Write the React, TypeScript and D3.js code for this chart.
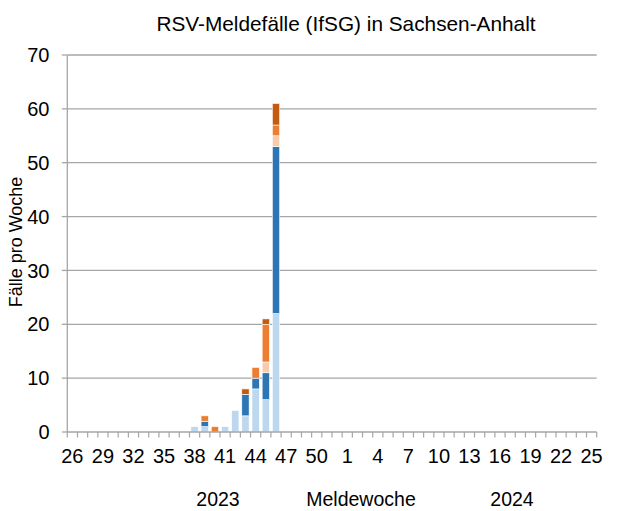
import React, { useEffect, useRef } from 'react';
import * as d3 from 'd3';

const weeks2023 = [26, 27, 28, 29, 30, 31, 32, 33, 34, 35, 36, 37, 38, 39, 40, 41, 42, 43, 44, 45, 46, 47, 48, 49, 50, 51, 52];
const weeks2024 = [1, 2, 3, 4, 5, 6, 7, 8, 9, 10, 11, 12, 13, 14, 15, 16, 17, 18, 19, 20, 21, 22, 23, 24, 25];
const categories = [...weeks2023.map((w) => `2023-${w}`), ...weeks2024.map((w) => `2024-${w}`)];
const weekLabels = [...weeks2023, ...weeks2024];

// Werte pro Woche (nur Wochen mit Meldungen, Rest 0)
const reportedWeeks = ['2023-38', '2023-39', '2023-40', '2023-41', '2023-42', '2023-43', '2023-44', '2023-45', '2023-46'];
const seriesA = [1, 1, 0, 1, 4, 3, 8, 6, 22];
const seriesB = [0, 1, 0, 0, 0, 4, 2, 5, 31];
const seriesC = [0, 0, 0, 0, 0, 0, 0, 2, 2];
const seriesD = [0, 1, 1, 0, 0, 0, 2, 7, 2];
const seriesE = [0, 0, 0, 0, 0, 1, 0, 1, 4];

const seriesKeys = ['a', 'b', 'c', 'd', 'e'];
const seriesColors = ['#BDD7EE', '#2E75B6', '#F8CBAD', '#ED7D31', '#C55A11'];
const yTicks = [0, 10, 20, 30, 40, 50, 60, 70];

const W = 619;
const H = 511;
const margin = { top: 55, right: 22.3, bottom: 79, left: 67.3 };

export default function App() {
  const svgRef = useRef<SVGSVGElement>(null);

  useEffect(() => {
    if (!svgRef.current) return;
    const svg = d3.select(svgRef.current);
    svg.selectAll('*').remove();

    const font = 'Liberation Sans, Arial, sans-serif';
    const x0 = margin.left;
    const x1 = W - margin.right;
    const y0 = H - margin.bottom;
    const axisColor = '#A6A6A6';

    const x = d3.scaleBand<string>().domain(categories).range([x0, x1]).paddingInner(0.28).paddingOuter(0.14);
    const y = d3.scaleLinear().domain([0, 70]).range([y0, margin.top]);

    const rows = categories.map((c) => {
      const i = reportedWeeks.indexOf(c);
      return {
        cat: c,
        a: i >= 0 ? seriesA[i] : 0,
        b: i >= 0 ? seriesB[i] : 0,
        c: i >= 0 ? seriesC[i] : 0,
        d: i >= 0 ? seriesD[i] : 0,
        e: i >= 0 ? seriesE[i] : 0,
      };
    });

    // Gitterlinien
    svg.append('g')
      .selectAll('line')
      .data(yTicks.filter((t) => t > 0))
      .join('line')
      .attr('x1', x0)
      .attr('x2', x1)
      .attr('y1', (d) => y(d))
      .attr('y2', (d) => y(d))
      .attr('stroke', axisColor)
      .attr('stroke-width', 1.3);

    // Y-Achse
    svg.append('line')
      .attr('x1', x0)
      .attr('x2', x0)
      .attr('y1', y(70))
      .attr('y2', y0)
      .attr('stroke', axisColor)
      .attr('stroke-width', 1.3);

    svg.append('g')
      .selectAll('line')
      .data(yTicks)
      .join('line')
      .attr('x1', x0 - 5.5)
      .attr('x2', x0)
      .attr('y1', (d) => y(d))
      .attr('y2', (d) => y(d))
      .attr('stroke', axisColor)
      .attr('stroke-width', 1.3);

    svg.append('g')
      .selectAll('text')
      .data(yTicks)
      .join('text')
      .attr('x', 49.5)
      .attr('y', (d) => y(d))
      .attr('dy', '0.36em')
      .attr('text-anchor', 'end')
      .attr('font-family', font)
      .attr('font-size', 20)
      .attr('fill', '#000')
      .text((d) => d);

    // Balken
    const stack = d3.stack<any>().keys(seriesKeys);
    const stacked = stack(rows);
    svg.append('g')
      .selectAll('g')
      .data(stacked)
      .join('g')
      .attr('fill', (_d, i) => seriesColors[i])
      .selectAll('rect')
      .data((d) => d.filter((p) => p[1] - p[0] > 0))
      .join('rect')
      .attr('x', (d: any) => x(d.data.cat)!)
      .attr('width', x.bandwidth())
      .attr('y', (d) => y(d[1]))
      .attr('height', (d) => y(d[0]) - y(d[1]))
      .attr('stroke', '#fff')
      .attr('stroke-width', 0.6);

    // X-Achse
    svg.append('line')
      .attr('x1', x0)
      .attr('x2', x1)
      .attr('y1', y0)
      .attr('y2', y0)
      .attr('stroke', axisColor)
      .attr('stroke-width', 1.3);

    const tickPos = d3.range(categories.length + 1).map((i) => x0 + i * ((x1 - x0) / categories.length));
    svg.append('g')
      .selectAll('line')
      .data(tickPos)
      .join('line')
      .attr('x1', (d) => d)
      .attr('x2', (d) => d)
      .attr('y1', y0)
      .attr('y2', y0 + 5.5)
      .attr('stroke', axisColor)
      .attr('stroke-width', 1.2);

    svg.append('g')
      .selectAll('text')
      .data(categories.filter((_c, i) => i % 3 === 0))
      .join('text')
      .attr('x', (d) => x(d)! + x.bandwidth() / 2)
      .attr('y', y0 + 31)
      .attr('text-anchor', 'middle')
      .attr('font-family', font)
      .attr('font-size', 20)
      .attr('fill', '#000')
      .text((d) => weekLabels[categories.indexOf(d)]);

    // Titel und Achsentitel
    svg.append('text')
      .attr('x', 346)
      .attr('y', 31)
      .attr('text-anchor', 'middle')
      .attr('font-family', font)
      .attr('font-size', 20.8)
      .text('RSV-Meldefälle (IfSG) in Sachsen-Anhalt');

    svg.append('text')
      .attr('transform', `translate(22,242) rotate(-90)`)
      .attr('text-anchor', 'middle')
      .attr('font-family', font)
      .attr('font-size', 18)
      .text('Fälle pro Woche');

    const bottom = [
      { t: '2023', x: 218 },
      { t: 'Meldewoche', x: 361 },
      { t: '2024', x: 512 },
    ];
    svg.append('g')
      .selectAll('text')
      .data(bottom)
      .join('text')
      .attr('x', (d) => d.x)
      .attr('y', 506)
      .attr('text-anchor', 'middle')
      .attr('font-family', font)
      .attr('font-size', 19.5)
      .text((d) => d.t);
  }, []);

  return (
    <svg
      ref={svgRef}
      width={W}
      height={H}
      style={{ position: 'absolute', left: 0, top: 0, background: '#fff' }}
    />
  );
}
